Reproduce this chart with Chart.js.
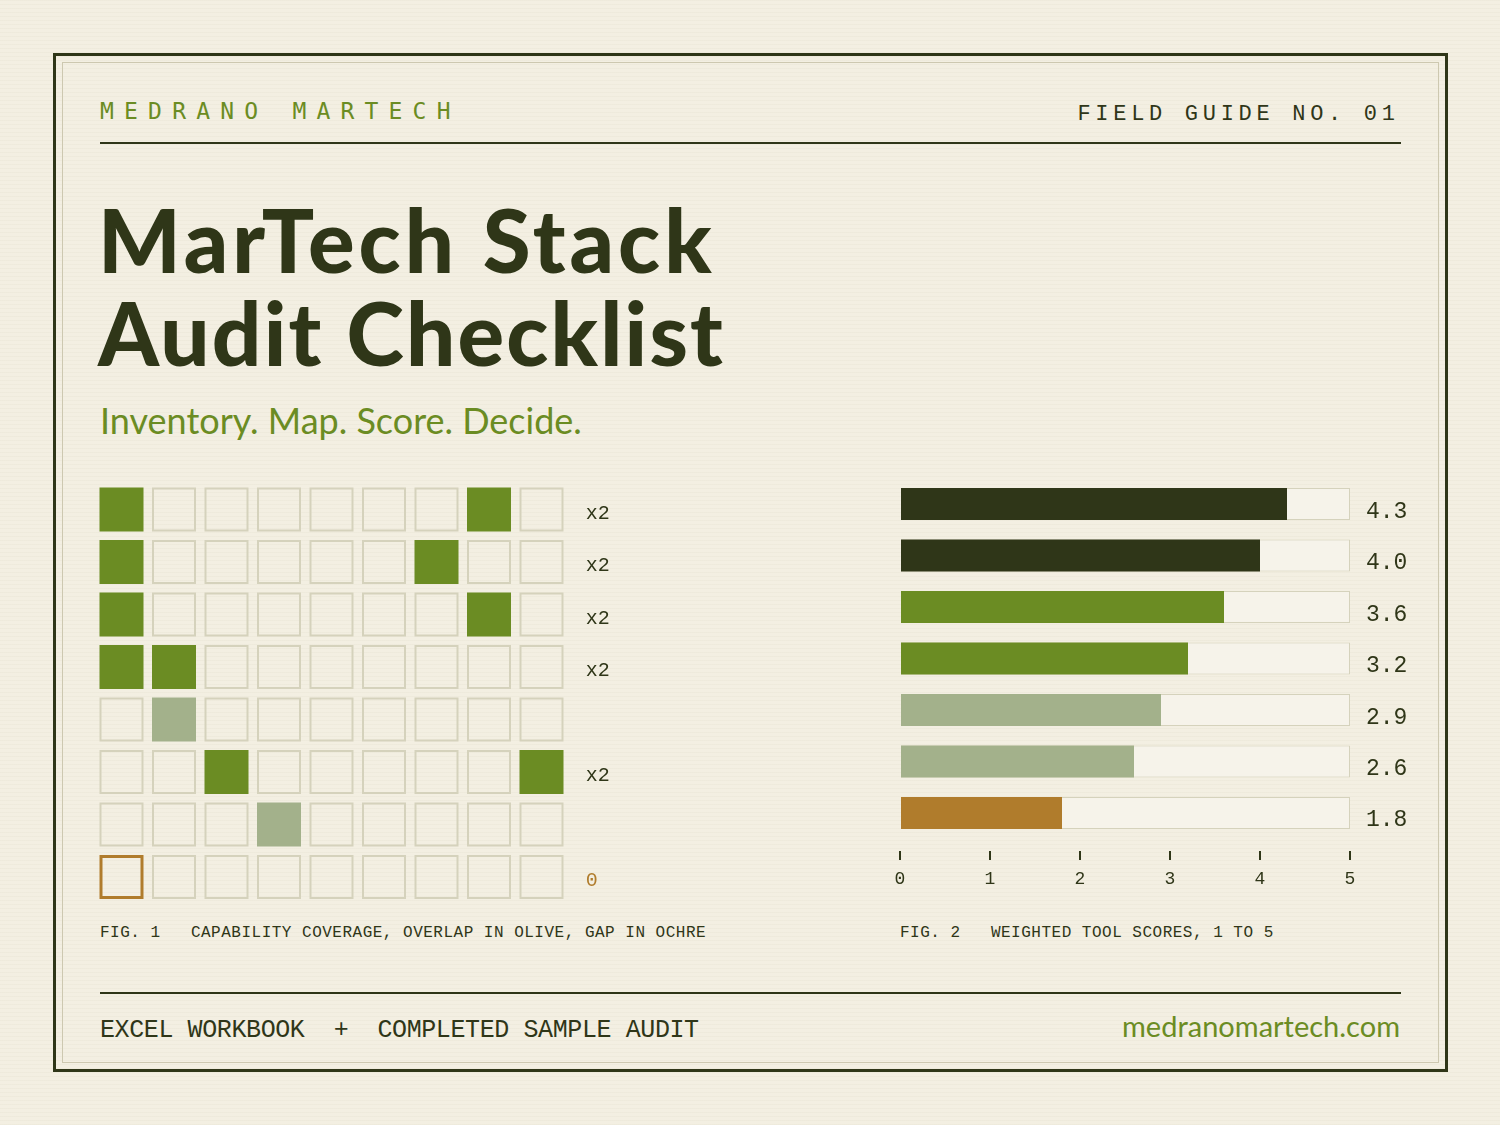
<!DOCTYPE html>
<html>
<head>
<meta charset="utf-8">
<script src="https://cdn.jsdelivr.net/npm/chart.js@4.4.1/dist/chart.umd.min.js"></script>
<style>
  html, body { margin: 0; padding: 0; }
  body {
    width: 1500px; height: 1125px; position: relative; overflow: hidden;
    background-color: #f3efe2;
    background-image: repeating-linear-gradient(to bottom, rgba(120,105,60,0.035) 0, rgba(120,105,60,0.035) 1px, transparent 1px, transparent 4px);
    font-family: "Liberation Mono", monospace;
    color: #2f3618;
  }
  .abs { position: absolute; white-space: pre; }
  #frame { left: 53px; top: 53px; width: 1389px; height: 1013px; border: 3px solid #2f3618; }
  #inner { left: 62px; top: 62px; width: 1375px; height: 999px; border: 1px solid #cdc8b0; }
  .rule { position: absolute; left: 100px; width: 1301px; height: 2px; background: #2f3618; }
  #brand { left: 100px; top: 100px; font: 23px/23px "DejaVu Sans Mono"; letter-spacing: 10.2px; color: #6b8c23; }
  #guide { right: 105px; top: 104px; font: 22px/22px "Liberation Mono"; letter-spacing: 4.7px; margin-right: -4.7px; }
  #title { left: 98px; top: 193px; font: 900 87px/93.4px "Lato"; letter-spacing: 2.2px; color: #2f3618; }
  #title .wide { letter-spacing: 4px; }
  #sub { left: 100px; top: 402px; font: 36px/36px "Lato"; color: #6b8c23; }
  .cap { top: 925px; font: 16px/16px "Liberation Mono"; letter-spacing: 0.5px; }
  #foot { left: 100px; top: 1018px; font: 25px/25px "Liberation Mono"; letter-spacing: -0.4px; }
  #site { right: 100px; top: 1011px; font: 29px/29px "Lato"; color: #6b8c23; }
  canvas { position: absolute; }
  #grid { left: 80px; top: 470px; }
  #bars { left: 860px; top: 460px; }
</style>
</head>
<body>
<div class="abs" id="frame"></div>
<div class="abs" id="inner"></div>
<div class="abs" id="brand">MEDRANO MARTECH</div>
<div class="abs" id="guide">FIELD GUIDE NO. 01</div>
<div class="rule" style="top:142px"></div>
<div class="abs" id="title"><span class="wide">MarTech Stack</span>
Audit Checklist</div>
<div class="abs" id="sub">Inventory. Map. Score. Decide.</div>

<canvas id="grid" width="560" height="450"></canvas>
<canvas id="bars" width="580" height="440"></canvas>

<div class="abs cap" style="left:100px">FIG. 1   CAPABILITY COVERAGE, OVERLAP IN OLIVE, GAP IN OCHRE</div>
<div class="abs cap" style="left:900px">FIG. 2   WEIGHTED TOOL SCORES, 1 TO 5</div>
<div class="rule" style="top:992px"></div>
<div class="abs" id="foot">EXCEL WORKBOOK  +  COMPLETED SAMPLE AUDIT</div>
<div class="abs" id="site">medranomartech.com</div>

<script>
// fig 1: capability grid, 0 = empty, 1 = overlap, 2 = partial, 3 = gap
const coverageRows = [
  [1, 0, 0, 0, 0, 0, 0, 1, 0],
  [1, 0, 0, 0, 0, 0, 1, 0, 0],
  [1, 0, 0, 0, 0, 0, 0, 1, 0],
  [1, 1, 0, 0, 0, 0, 0, 0, 0],
  [0, 2, 0, 0, 0, 0, 0, 0, 0],
  [0, 0, 1, 0, 0, 0, 0, 0, 1],
  [0, 0, 0, 2, 0, 0, 0, 0, 0],
  [3, 0, 0, 0, 0, 0, 0, 0, 0],
]
const rowMarks = ['x2', 'x2', 'x2', 'x2', '', 'x2', '', '0']

// fig 2: weighted tool scores
const toolScores = [4.3, 4.0, 3.6, 3.2, 2.9, 2.6, 1.8]
const scoreTiers = ['top', 'top', 'mid', 'mid', 'low', 'low', 'gap']
const scoreMax = 5

const DARK = '#2f3618'
const OLIVE = '#6b8c23'
const SAGE = '#a3b18b'
const OCHRE = '#b07c2c'
const LINE = '#d5d2bc'

const cellFill = ['rgba(0,0,0,0)', OLIVE, SAGE, 'rgba(0,0,0,0)']
const cellBorder = [LINE, OLIVE, SAGE, OCHRE]
const cellBorderWidth = [2, 0, 0, 3]
const tierColor = { top: DARK, mid: OLIVE, low: SAGE, gap: OCHRE }

const cells = []
coverageRows.forEach((row, r) => {
  row.forEach((s, c) => cells.push({ x: c, y: r, s: s }))
})

const cellRadius = (ctx) => {
  const xs = ctx.chart.scales.x
  const pitch = Math.abs(xs.getPixelForValue(1) - xs.getPixelForValue(0))
  const outer = pitch * 44 / 52.5
  const path = outer - cellBorderWidth[ctx.raw.s]
  return path / Math.SQRT2
}

// keep label overflow from shrinking the plot area, the page sets it
const noPad = (axis) => {
  axis.paddingTop = 0
  axis.paddingBottom = 0
  axis.paddingLeft = 0
  axis.paddingRight = 0
}

new Chart(document.getElementById('grid'), {
  type: 'scatter',
  data: {
    datasets: [{
      data: cells,
      pointStyle: 'rect',
      pointRadius: cellRadius,
      pointHoverRadius: cellRadius,
      backgroundColor: (ctx) => cellFill[ctx.raw.s],
      borderColor: (ctx) => cellBorder[ctx.raw.s],
      borderWidth: (ctx) => cellBorderWidth[ctx.raw.s],
    }]
  },
  options: {
    responsive: false,
    animation: false,
    events: [],
    layout: { padding: { left: 15.25, top: 13.25, bottom: 16.75, right: 0 } },
    plugins: { legend: { display: false }, tooltip: { enabled: false } },
    scales: {
      x: { type: 'linear', min: -0.5, max: coverageRows[0].length - 0.5, display: false },
      y: {
        type: 'linear',
        position: 'right',
        reverse: true,
        min: -0.5,
        max: coverageRows.length - 0.5,
        afterBuildTicks: (axis) => { axis.ticks = rowMarks.map((_, i) => ({ value: i })) },
        afterFit: (axis) => { axis.width = 72.25; noPad(axis) },
        grid: { display: false, drawTicks: false },
        border: { display: false },
        ticks: {
          callback: (v) => rowMarks[v],
          color: (ctx) => rowMarks[ctx.index] === '0' ? OCHRE : DARK,
          padding: 18,
          labelOffset: 4,
          font: { family: 'Liberation Mono', size: 20 },
        }
      }
    }
  }
})

// score text to the right of each track
const scoreLabels = {
  id: 'scoreLabels',
  afterDatasetsDraw(chart) {
    const { ctx, chartArea } = chart
    const meta = chart.getDatasetMeta(0)
    ctx.save()
    ctx.font = '23px "Liberation Mono"'
    ctx.fillStyle = DARK
    ctx.textAlign = 'left'
    ctx.textBaseline = 'middle'
    meta.data.forEach((bar, i) => {
      ctx.fillText(toolScores[i].toFixed(1), chartArea.right + 16, bar.y + 7.5)
    })
    ctx.restore()
  }
}

new Chart(document.getElementById('bars'), {
  type: 'bar',
  data: {
    datasets: [{
      data: toolScores.map((v, i) => ({ x: v, y: i })),
      backgroundColor: scoreTiers.map(t => tierColor[t]),
      borderWidth: 0,
      maxBarThickness: 32,
      grouped: false,
    }, {
      data: toolScores.map((_, i) => ({ x: scoreMax, y: i })),
      backgroundColor: '#f6f3ea',
      borderColor: LINE,
      borderWidth: 1,
      borderSkipped: false,
      maxBarThickness: 32,
      grouped: false,
    }]
  },
  plugins: [scoreLabels],
  options: {
    indexAxis: 'y',
    responsive: false,
    animation: false,
    events: [],
    layout: { padding: { left: 40, top: 18.25, bottom: 0, right: 90 } },
    plugins: { legend: { display: false }, tooltip: { enabled: false } },
    scales: {
      x: {
        type: 'linear',
        min: 0,
        max: scoreMax,
        afterFit: (axis) => { axis.height = 49; noPad(axis) },
        ticks: {
          stepSize: 1,
          color: DARK,
          padding: 8,
          font: { family: 'Liberation Mono', size: 18 },
        },
        grid: { drawOnChartArea: false, drawTicks: true, tickLength: 9, lineWidth: 2, color: DARK },
        border: { display: false },
      },
      y: {
        type: 'linear',
        display: false,
        reverse: true,
        offset: false,
        min: -0.5,
        max: 6.74,
        afterBuildTicks: (axis) => { axis.ticks = toolScores.map((_, i) => ({ value: i })) },
      }
    }
  }
})
</script>
</body>
</html>
